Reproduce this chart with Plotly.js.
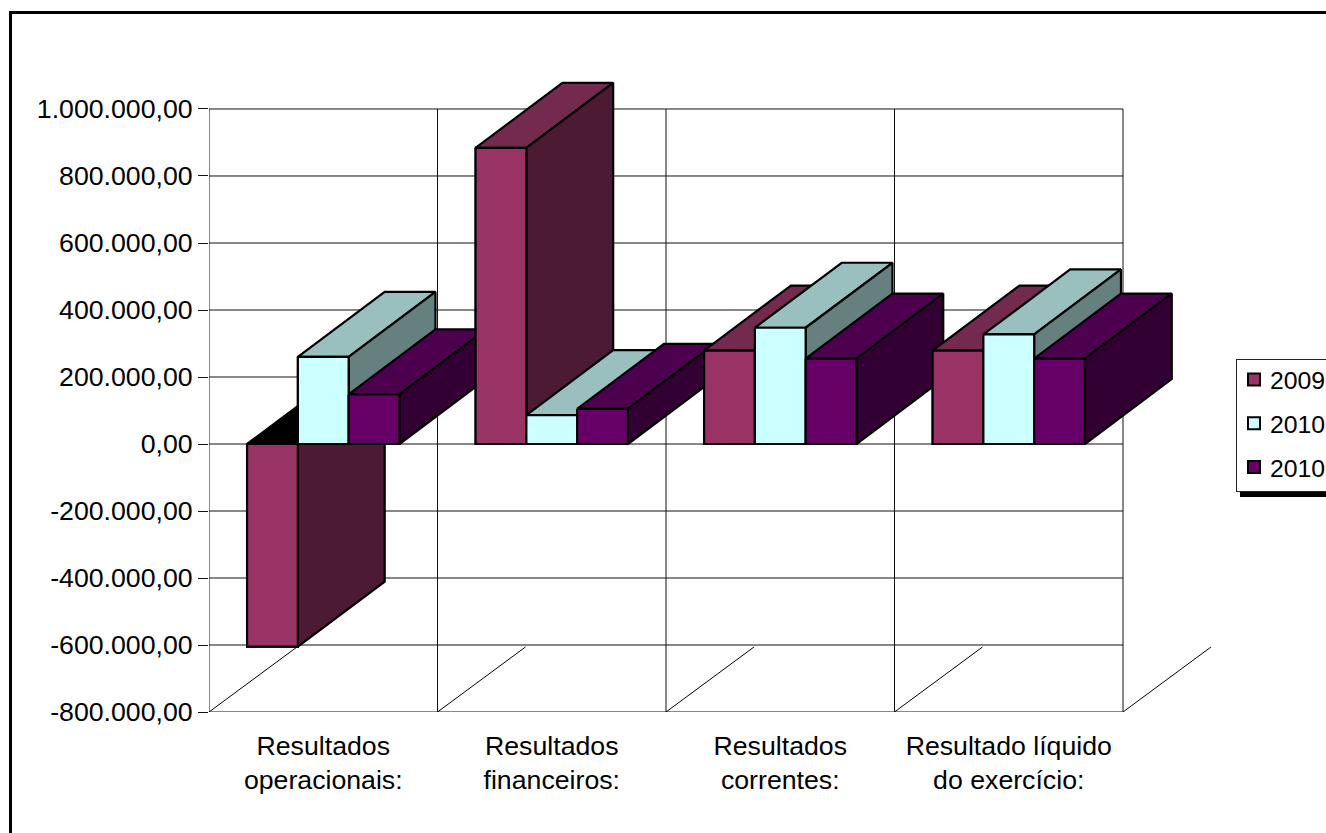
<!DOCTYPE html>
<html>
<head>
<meta charset="utf-8">
<script src="https://cdn.plot.ly/plotly-3.0.1.min.js"></script>
<style>
  html, body { margin: 0; padding: 0; background: #fff; overflow: hidden; }
  #chart { width: 1326px; height: 833px; }
</style>
</head>
<body>
<div id="chart"></div>
<script>
// Results per category, in currency units
const categories = ["Resultados<br>operacionais:", "Resultados<br>financeiros:", "Resultados<br>correntes:", "Resultado líquido<br>do exercício:"];
const seriesNames = ["2009", "2010", "2010"];
const values2009 = [-605000, 884000, 279000, 279000];
const values2010a = [260000, 86000, 347000, 327000];
const values2010b = [148000, 105000, 255000, 255000];

const yTickVals = [-800000, -600000, -400000, -200000, 0, 200000, 400000, 600000, 800000, 1000000];
const yTickText = ["-800.000,00", "-600.000,00", "-400.000,00", "-200.000,00", "0,00", "200.000,00", "400.000,00", "600.000,00", "800.000,00", "1.000.000,00"];

const frontColors = ["#993366", "#CCFFFF", "#660066"];
const topColors = ["#732A4E", "#99BFBF", "#4D004D"];
const sideColors = ["#4D1A33", "#668080", "#330033"];

const allValues = [values2009, values2010a, values2010b];

// Oblique projection: how far the back of a block is shifted from its front
const depthX = 0.38;
const depthY = 194000;
const floorDepthX = 0.385;

// Bars occupy 2/3 of a category, each a third of that
const barWidth = 2 / 9;
const groupInset = 1 / 6;

const nCat = categories.length;
const yMin = yTickVals[0];
const yMax = yTickVals[yTickVals.length - 1];

// Axis ranges reach past the front plane to leave room for the extrusion
const xRangeMax = 4.4026;
const yRangeMax = 1116400;

const edgeWidth = 2.2;
const fontFamily = "Liberation Sans, Arial, sans-serif";
const fontSize = 26.7;
const legendFontSize = 24.8;

function face(xs, ys, color) {
  return {
    type: "scatter", mode: "lines", x: xs.concat(xs[0]), y: ys.concat(ys[0]),
    fill: "toself", fillcolor: color,
    line: { color: "#000", width: edgeWidth },
    showlegend: false, hoverinfo: "skip"
  };
}

const traces = [];

// Plain bars: they set the values on the axes and provide the legend entries
allValues.forEach((vals, s) => {
  traces.push({
    type: "bar", name: seriesNames[s], legendgroup: "s" + s,
    x: categories.map((_, i) => i + 0.5), y: vals,
    marker: { color: frontColors[s], line: { color: "#000", width: 2 } },
    hoverinfo: "skip"
  });
});

// Floor guides running back from every category boundary
for (let i = 0; i <= nCat; i++) {
  traces.push({
    type: "scatter", mode: "lines",
    x: [i, i + floorDepthX], y: [yMin, yMin + depthY],
    line: { color: "#000", width: 1 },
    showlegend: false, hoverinfo: "skip"
  });
}

// Extruded faces, painted from left to right so nearer blocks overlap
categories.forEach((_, i) => {
  allValues.forEach((vals, s) => {
    const x0 = i + groupInset + s * barWidth;
    const x1 = x0 + barWidth;
    const hi = Math.max(vals[i], 0);
    const lo = Math.min(vals[i], 0);
    traces.push(face([x0, x1, x1 + depthX, x0 + depthX], [hi, hi, hi + depthY, hi + depthY],
      vals[i] < 0 ? "#000" : topColors[s]));
    traces.push(face([x1, x1 + depthX, x1 + depthX, x1], [hi, hi + depthY, lo + depthY, lo], sideColors[s]));
    traces.push(face([x0, x1, x1, x0], [hi, hi, lo, lo], frontColors[s]));
  });
});

const W = 1326, H = 833;
const M = { l: 209, r: 111, t: 70, b: 121 };
const px = p => (p - M.l) / (W - M.l - M.r);
const py = p => (H - M.b - p) / (H - M.t - M.b);

// Front-plane grid, limited to the value and category extents
const gridShapes = [];
yTickVals.forEach(v => gridShapes.push({
  type: "line", xref: "x", yref: "y", x0: 0, x1: nCat, y0: v, y1: v,
  line: { color: "#111", width: 1 }, layer: "below"
}));
for (let i = 0; i <= nCat; i++) {
  gridShapes.push({
    type: "line", xref: "x", yref: "y", x0: i, x1: i, y0: yMin, y1: yMax,
    line: { color: "#111", width: 1 }, layer: "below"
  });
}

const layout = {
  width: W, height: H,
  margin: { l: M.l, r: M.r, t: M.t, b: M.b, pad: 0, autoexpand: false },
  paper_bgcolor: "#fff", plot_bgcolor: "#fff",
  font: { family: fontFamily, size: fontSize, color: "#000" },
  barmode: "group", bargap: 1 / 3, bargroupgap: 0,
  xaxis: {
    range: [0, xRangeMax], showgrid: false,
    tickmode: "array", tickvals: categories.map((_, i) => i + 0.5), ticktext: categories,
    ticks: "", ticklabelstandoff: 15, zeroline: false, showline: false,
    tickangle: 0, fixedrange: true
  },
  yaxis: {
    range: [yMin, yRangeMax], showgrid: false,
    tickmode: "array", tickvals: yTickVals, ticktext: yTickText,
    ticks: "outside", ticklen: 10, tickcolor: "#111", tickwidth: 1,
    zeroline: false, showline: false, fixedrange: true
  },
  showlegend: true,
  legend: {
    x: px(1236), xanchor: "left", y: py(359), yanchor: "top",
    bgcolor: "#fff", bordercolor: "#222", borderwidth: 1,
    traceorder: "grouped", tracegroupgap: 8.5,
    font: { family: fontFamily, size: legendFontSize, color: "#000" }
  },
  shapes: gridShapes.concat([
    // Outer chart frame, running off the right and bottom edges
    { type: "rect", xref: "paper", yref: "paper", x0: px(10.5), x1: px(1340), y0: py(12.5), y1: py(850),
      line: { color: "#000", width: 3 }, fillcolor: "rgba(0,0,0,0)", layer: "above" },
    // Legend drop shadow
    { type: "rect", xref: "paper", yref: "paper", x0: px(1240), x1: px(1340), y0: py(480), y1: py(497),
      line: { width: 0 }, fillcolor: "#000", layer: "above" }
  ])
};

Plotly.newPlot("chart", traces, layout, { displayModeBar: false, staticPlot: true }).then(() => {
  // Tighten the legend: swatches and labels sit closer to the box edge,
  // and the box is trimmed so the drop shadow shows beneath it
  document.querySelectorAll(".legend .legendpoints").forEach(g => g.setAttribute("transform", "translate(-3,0)"));
  document.querySelectorAll(".legend .legendtext").forEach(t => t.setAttribute("x", Number(t.getAttribute("x")) - 7));
  const box = document.querySelector(".legend .bg");
  if (box) box.setAttribute("height", "132");
  const items = document.querySelector(".legend .scrollbox");
  if (items) {
    const cur = items.getAttribute("transform") || "";
    items.setAttribute("transform", cur + " translate(0,-3)");
  }
});
</script>
</body>
</html>
